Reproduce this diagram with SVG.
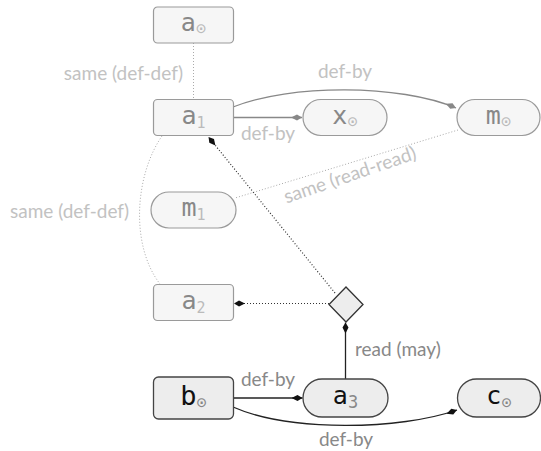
<svg xmlns="http://www.w3.org/2000/svg" width="541" height="451" viewBox="0 0 541 451">
<style>
.gn{fill:#f6f6f6;stroke:#9a9a9a;stroke-width:1.2}
.dn{fill:#ededed;stroke:#444;stroke-width:1.3}
.nt{font-family:"DejaVu Sans Mono",monospace;font-size:25px;text-anchor:middle}
.gt{fill:#888}
.gs{fill:#bbb;font-size:15px}
.dt{fill:#111}
.ds{fill:#888;font-size:15px}
.cd{font-size:17px}
.lbl{font-family:Lato,"Liberation Sans",sans-serif;font-size:19px}
.lg{fill:#c2c2c2}
.ld{fill:#888}
.eg{fill:none;stroke:#888;stroke-width:1.3}
.ed{fill:none;stroke:#222;stroke-width:1.3}
.dotg{fill:none;stroke:#aaa;stroke-width:1;stroke-dasharray:1,2}
.dotd{fill:none;stroke:#333;stroke-width:1.2;stroke-dasharray:1,2}
</style>
<defs>
<marker id="ag" viewBox="0 0 11 7" refX="11" refY="3.5" markerWidth="11" markerHeight="7" markerUnits="userSpaceOnUse" orient="auto">
<path d="M0,3.5 L6,0.5 L11,3.5 L6,6.5 z" fill="#888"/>
</marker>
<marker id="ad" viewBox="0 0 11 7" refX="11" refY="3.5" markerWidth="11" markerHeight="7" markerUnits="userSpaceOnUse" orient="auto">
<path d="M0,3.5 L6,0.5 L11,3.5 L6,6.5 z" fill="#111"/>
</marker>
</defs>
<g id="edges">
<path class="dotg" d="M193.5,43 L193.5,99.5"/>
<path class="eg" d="M233,117.5 L302,117.5" marker-end="url(#ag)"/>
<path class="eg" d="M233,107 C290,84 400,84 456,108" marker-end="url(#ag)"/>
<path class="dotg" d="M162,136 C135,175 130,245 160,284"/>
<path class="dotg" d="M458,130 L235,198"/>
<path class="dotd" d="M335,293 L208.5,137" marker-end="url(#ad)"/>
<path class="dotd" d="M329,303.5 L234,303.5" marker-end="url(#ad)"/>
<path class="ed" d="M345.5,379 L345.5,322.5" marker-end="url(#ad)"/>
<path class="ed" d="M233,398 L302.5,398" marker-end="url(#ad)"/>
<path class="ed" d="M233,407 C290,432 400,430 457,410" marker-end="url(#ad)"/>
<text class="lbl lg" x="183" y="80" text-anchor="end">same (def-def)</text>
<text class="lbl lg" x="345" y="78" text-anchor="middle">def-by</text>
<text class="lbl lg" x="268" y="140" text-anchor="middle">def-by</text>
<text class="lbl lg" x="10" y="218">same (def-def)</text>
<text class="lbl lg" x="352" y="181" text-anchor="middle" transform="rotate(-19 352 181)">same (read-read)</text>
<text class="lbl ld" x="355" y="356">read (may)</text>
<text class="lbl ld" x="268" y="386" text-anchor="middle">def-by</text>
<text class="lbl ld" x="346" y="446" text-anchor="middle">def-by</text>
</g>
<g id="a0">
<rect class="gn" x="153.5" y="7" width="80" height="36" rx="4"/>
<text class="nt" x="193.5" y="30.5"><tspan class="gt">a</tspan><tspan class="gs cd" dy="3.5">⊙</tspan></text>
</g>
<g id="a1">
<rect class="gn" x="153.5" y="99.5" width="80" height="36" rx="4"/>
<text class="nt" x="193.5" y="123.5"><tspan class="gt">a</tspan><tspan class="gs" dy="4">1</tspan></text>
</g>
<g id="x0">
<rect class="gn" x="303" y="99.5" width="84" height="36" rx="18"/>
<text class="nt" x="345" y="123.5"><tspan class="gt">x</tspan><tspan class="gs cd" dy="3.5">⊙</tspan></text>
</g>
<g id="m0">
<rect class="gn" x="457" y="99.5" width="83" height="36" rx="18"/>
<text class="nt" x="498.5" y="123.5"><tspan class="gt">m</tspan><tspan class="gs cd" dy="3.5">⊙</tspan></text>
</g>
<g id="m1">
<rect class="gn" x="151" y="192" width="85" height="36" rx="18"/>
<text class="nt" x="193.5" y="216"><tspan class="gt">m</tspan><tspan class="gs" dy="4">1</tspan></text>
</g>
<g id="a2">
<rect class="gn" x="153.5" y="284.5" width="80" height="36" rx="4"/>
<text class="nt" x="193.5" y="308.5"><tspan class="gt">a</tspan><tspan class="gs" dy="4">2</tspan></text>
</g>
<g id="read">
<path class="dn" d="M346,287 L363,304.5 L346,322 L329,304.5 z" style="stroke:#333"/>
</g>
<g id="b0">
<rect class="dn" x="153.5" y="377" width="80" height="42" rx="5"/>
<text class="nt" x="193.5" y="405" style="font-size:27px"><tspan class="dt">b</tspan><tspan class="ds cd" dy="3">⊙</tspan></text>
</g>
<g id="a3">
<rect class="dn" x="303" y="379" width="85" height="38" rx="19"/>
<text class="nt" x="345.5" y="404"><tspan class="dt">a</tspan><tspan class="ds" dy="4" style="font-size:17px">3</tspan></text>
</g>
<g id="c0">
<rect class="dn" x="457.5" y="379" width="83" height="38" rx="19"/>
<text class="nt" x="499" y="404"><tspan class="dt">c</tspan><tspan class="ds cd" dy="3.5">⊙</tspan></text>
</g>
</svg>
